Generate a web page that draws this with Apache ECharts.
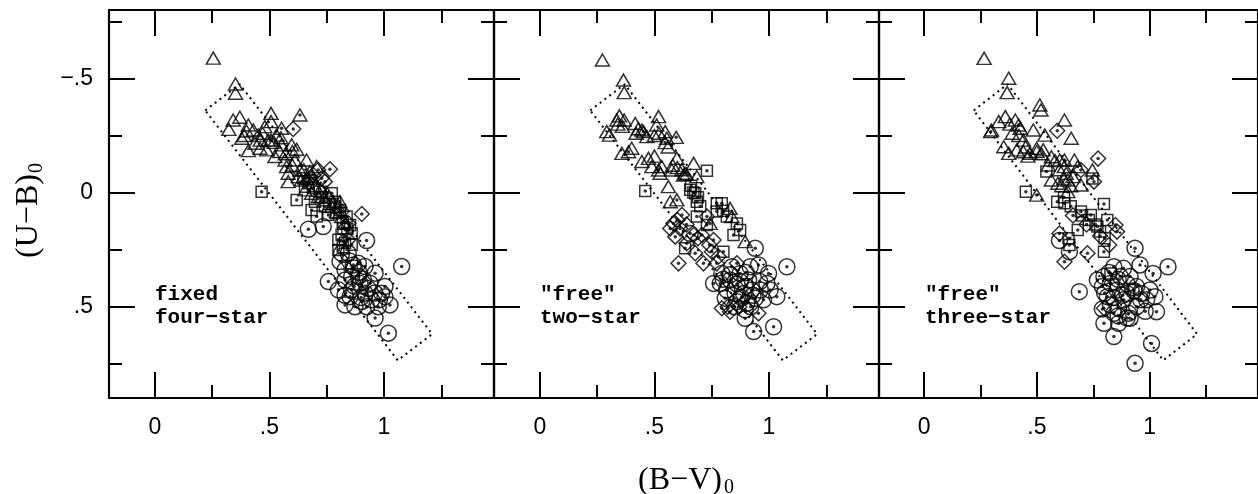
<!DOCTYPE html>
<html><head><meta charset="utf-8">
<script src="https://cdn.jsdelivr.net/npm/echarts@6/dist/echarts.min.js"></script>
<style>html,body{margin:0;padding:0;background:#fff}#c{width:1258px;height:494px}</style>
</head><body><div id="c"></div>
<script>
// ---------- data ----------
const xMin = -0.2, xMax = 1.48, yMin = -0.8, yMax = 0.9;
const xMajor = [0, 0.5, 1], xMajorLabels = ['0', '.5', '1'];
const xMinor = [0.25, 0.75, 1.25];
const yMajor = [-0.5, 0, 0.5], yMajorLabels = ['\u2212.5', '0', '.5'];
const yMinor = [-0.75, -0.25, 0.25, 0.75];
const panelNames = ['fixed\nfour\u2212star', '"free"\ntwo\u2212star', '"free"\nthree\u2212star'];
const boxCorners = [[0.22,-0.36],[0.37,-0.475],[1.21,0.62],[1.06,0.735],[0.22,-0.36]];

// panel 1 (fixed four-star)
const p1TriOpen = [[0.255,-0.589],[0.352,-0.476],[0.352,-0.435],[0.371,-0.33],[0.342,-0.318],[0.323,-0.277],[0.379,-0.238],[0.408,-0.184],[0.408,-0.296],[0.43,-0.274],[0.451,-0.252],[0.48,-0.289],[0.507,-0.347],[0.507,-0.311],[0.531,-0.252],[0.495,-0.23],[0.488,-0.187],[0.524,-0.158],[0.553,-0.209],[0.597,-0.209],[0.619,-0.19],[0.568,-0.143],[0.611,-0.143],[0.662,-0.143],[0.582,-0.085],[0.633,-0.099],[0.582,-0.048],[0.626,-0.07],[0.677,-0.092],[0.706,-0.114],[0.437,-0.216],[0.459,-0.194],[0.64,-0.055],[0.655,-0.012],[0.684,0.003],[0.713,0.018],[0.742,0.032],[0.772,0.061],[0.793,0.083],[0.815,0.105],[0.83,0.134],
  [0.60,-0.12],[0.65,-0.10],[0.69,-0.06],[0.70,-0.03],[0.725,-0.02],[0.75,0.0],[0.76,0.02],[0.78,0.04],[0.80,0.06],[0.545,-0.18],[0.57,-0.17],[0.47,-0.26],[0.46,-0.23],[0.40,-0.27],[0.39,-0.25],[0.52,-0.22],[0.55,-0.24],[0.60,-0.18]];
const p1TriDot = [[0.633,-0.34],[0.553,-0.282],[0.808,0.04],[0.507,-0.23],[0.662,-0.063],[0.575,-0.114]];
const p1Square = [[0.466,-0.004],[0.619,0.032],[0.684,0.076],[0.801,0.207],[0.801,0.251],[0.699,0.04],[0.757,0.098],[0.859,0.178],[0.655,-0.026],[0.772,0.003],[0.823,0.156],[0.859,0.229],[0.706,0.105],[0.742,0.061],[0.648,-0.063],[0.67,-0.041],[0.72,-0.004],[0.786,0.04],[0.808,0.076],[0.837,0.105],[0.852,0.142],[0.815,0.185],
  [0.69,-0.02],[0.73,0.02],[0.76,0.05],[0.79,0.09],[0.82,0.13],[0.84,0.16],[0.83,0.22],[0.82,0.24]];
const p1Diamond = [[0.604,-0.279],[0.764,-0.102],[0.903,0.094],[0.742,-0.048],[0.713,-0.099],[0.844,0.134],[0.728,-0.063],[0.691,-0.077],[0.815,0.083],[0.844,0.207]];
const p1Circle = [[0.67,0.161],[0.735,0.149],[0.924,0.21],[1.077,0.324],[0.757,0.39],[0.808,0.302],[0.83,0.492],[0.917,0.324],[0.961,0.353],[1.004,0.412],[1.026,0.492],[0.961,0.55],[1.019,0.616],[0.888,0.368],[0.859,0.426],[0.917,0.441],[0.946,0.47],[0.99,0.441],[0.873,0.5],[0.924,0.5],[0.83,0.383],[0.866,0.317],[0.83,0.339],[1.004,0.456],[0.801,0.426],[0.895,0.397],[0.939,0.397],[0.852,0.456],[0.975,0.5],[0.888,0.31],[0.844,0.266],[0.815,0.266],[0.859,0.368],[0.903,0.477],
  [0.85,0.30],[0.87,0.33],[0.89,0.35],[0.91,0.38],[0.93,0.42],[0.87,0.41],[0.90,0.46],[0.96,0.44],[0.98,0.47],[0.83,0.45]];

// panel 2 ("free" two-star)
const p2TriOpen = [[0.273,-0.581],[0.365,-0.493],[0.368,-0.438],[0.347,-0.336],[0.336,-0.318],[0.368,-0.318],[0.304,-0.252],[0.292,-0.267],[0.358,-0.172],[0.401,-0.194],[0.416,-0.303],[0.445,-0.274],[0.467,-0.245],[0.518,-0.333],[0.51,-0.296],[0.547,-0.267],[0.554,-0.238],[0.445,-0.136],[0.474,-0.15],[0.489,-0.114],[0.525,-0.085],[0.532,-0.114],[0.598,-0.15],[0.576,-0.099],[0.627,-0.077],[0.671,-0.128],[0.685,-0.07],[0.561,-0.026],[0.569,0.04],[0.83,0.069],[0.838,0.105],[0.896,0.215],
  [0.42,-0.26],[0.43,-0.28],[0.50,-0.25],[0.52,-0.26],[0.56,-0.20],[0.58,-0.12],[0.60,-0.11],[0.62,-0.10],[0.64,-0.08],[0.50,-0.16],[0.34,-0.30],[0.36,-0.29]];
const p2TriDot = [[0.547,-0.219],[0.595,-0.242],[0.452,-0.267],[0.634,-0.085],[0.598,0.032],[0.743,0.135],[0.387,-0.179],[0.518,-0.099]];
const p2Square = [[0.46,-0.007],[0.729,-0.096],[0.656,-0.012],[0.678,0.003],[0.685,0.04],[0.772,0.047],[0.794,0.047],[0.772,0.083],[0.816,0.105],[0.86,0.135],[0.874,0.164],[0.685,0.105],[0.634,0.244],[0.801,0.259],[0.729,0.142],[0.845,0.186],
  [0.66,-0.03],[0.67,0.0],[0.69,0.02],[0.70,0.06],[0.80,0.08]];
const p2Diamond = [[0.62,0.098],[0.583,0.135],[0.569,0.157],[0.591,0.193],[0.612,0.157],[0.671,0.186],[0.707,0.186],[0.758,0.208],[0.678,0.266],[0.714,0.31],[0.751,0.259],[0.605,0.31],[0.794,0.507],[0.83,0.522],[0.954,0.529],[0.86,0.31],[0.772,0.31],[0.729,0.105],[0.641,0.222],
  [0.60,0.12],[0.64,0.14],[0.69,0.20],[0.74,0.23],[0.78,0.28],[0.82,0.50],[0.87,0.50]];
const p2Circle = [[0.656,0.179],[0.94,0.244],[1.078,0.325],[1.034,0.456],[1.02,0.588],[0.933,0.609],[0.896,0.551],[0.758,0.398],[0.794,0.354],[0.83,0.383],[0.874,0.354],[0.918,0.325],[0.954,0.317],[0.998,0.354],[0.991,0.398],[0.962,0.427],[0.925,0.427],[0.889,0.442],[0.852,0.442],[0.816,0.427],[0.787,0.398],[0.86,0.478],[0.903,0.485],[0.94,0.463],[1.005,0.427],[0.874,0.39],[0.911,0.383],[0.838,0.325],[0.809,0.463],[0.896,0.514],[0.976,0.47],
  [0.83,0.36],[0.86,0.40],[0.90,0.41],[0.93,0.45],[0.88,0.46],[0.85,0.50],[0.92,0.50],[0.96,0.39],[0.80,0.38],[0.90,0.35]];

// panel 3 ("free" three-star)
const p3TriOpen = [[0.266,-0.588],[0.375,-0.501],[0.368,-0.438],[0.513,-0.384],[0.518,-0.362],[0.36,-0.333],[0.331,-0.311],[0.299,-0.274],[0.404,-0.318],[0.426,-0.282],[0.484,-0.274],[0.535,-0.252],[0.622,-0.318],[0.652,-0.238],[0.353,-0.201],[0.375,-0.172],[0.411,-0.187],[0.44,-0.23],[0.44,-0.179],[0.47,-0.172],[0.499,-0.194],[0.528,-0.187],[0.564,-0.157],[0.601,-0.143],[0.666,-0.143],[0.622,-0.114],[0.55,-0.121],[0.746,-0.099],[0.564,-0.055],[0.593,-0.041],[0.637,-0.055],[0.695,-0.033],[0.63,-0.084],
  [0.38,-0.30],[0.39,-0.26],[0.42,-0.25],[0.45,-0.20],[0.46,-0.16],[0.50,-0.18],[0.52,-0.17],[0.58,-0.14],[0.60,-0.10],[0.62,-0.06],[0.65,-0.03],[0.61,-0.03],[0.66,-0.07]];
const p3TriDot = [[0.295,-0.267],[0.419,-0.296],[0.499,0.011],[0.622,-0.143],[0.681,-0.114],[0.637,-0.004]];
const p3Square = [[0.451,-0.004],[0.59,0.04],[0.797,0.05],[0.681,0.164],[0.768,0.149],[0.644,0.23],[0.797,0.259],[0.739,0.098],[0.695,0.083],[0.812,0.12],[0.542,-0.092],[0.746,-0.062],[0.622,0.047],[0.928,0.427],[0.826,0.354],
  [0.62,0.02],[0.65,0.06],[0.70,0.10],[0.73,0.12],[0.76,0.14],[0.78,0.17],[0.80,0.20],[0.64,0.20]];
const p3Diamond = [[0.59,-0.271],[0.771,-0.149],[0.6,0.179],[0.622,0.303],[0.753,-0.048],[0.848,0.142],[0.724,0.266],[0.695,-0.099],[0.797,0.507],[0.855,0.171],
  [0.66,0.10],[0.72,0.14],[0.78,0.19],[0.82,0.23]];
const p3Circle = [[0.935,0.244],[1.081,0.325],[0.957,0.317],[1.015,0.354],[0.688,0.434],[0.797,0.368],[0.841,0.325],[0.884,0.332],[0.913,0.368],[0.87,0.368],[0.826,0.398],[0.79,0.412],[0.855,0.427],[0.899,0.442],[0.942,0.412],[1.001,0.427],[1.023,0.456],[1.03,0.522],[0.986,0.47],[0.942,0.5],[0.906,0.529],[0.862,0.507],[0.826,0.493],[0.797,0.573],[0.862,0.573],[0.913,0.551],[0.841,0.631],[1.008,0.661],[0.935,0.748],[0.644,0.259],[0.812,0.456],[0.884,0.47],[0.964,0.442],[0.768,0.383],[0.841,0.529],
  [0.60,0.21],[0.82,0.35],[0.86,0.38],[0.90,0.40],[0.93,0.43],[0.96,0.47],[0.88,0.45],[0.84,0.46],[0.80,0.44],[0.98,0.52],[0.86,0.54],[0.90,0.55],[0.79,0.51]];

const panels = [
  {triOpen: p1TriOpen, triDot: p1TriDot, square: p1Square, diamond: p1Diamond, circle: p1Circle},
  {triOpen: p2TriOpen, triDot: p2TriDot, square: p2Square, diamond: p2Diamond, circle: p2Circle},
  {triOpen: p3TriOpen, triDot: p3TriDot, square: p3Square, diamond: p3Diamond, circle: p3Circle}
];

// ---------- layout / style ----------
const gridLefts = [109, 494, 879];
const gridW = 385, gridTop = 10, gridH = 388;
const BLACK = '#000';
const TICK_FONT = '"Liberation Sans", Arial, sans-serif';

function labelFor(vals, labels) {
  return function (v) {
    for (let i = 0; i < vals.length; i++) if (Math.abs(v - vals[i]) < 1e-9) return labels[i];
    return '';
  };
}

const grids = [], xAxes = [], yAxes = [], series = [];
panels.forEach((p, i) => {
  grids.push({left: gridLefts[i], top: gridTop, width: gridW, height: gridH, containLabel: false});
  const xBase = xAxes.length, yBase = yAxes.length;
  ['bottom', 'top'].forEach(pos => {
    [true, false].forEach(major => {
      xAxes.push({
        type: 'value', gridIndex: i, position: pos, min: xMin, max: xMax,
        axisLine: {show: major, onZero: false, lineStyle: {color: BLACK, width: 2.2}},
        axisTick: {show: true, inside: true, length: major ? 26 : 13, customValues: major ? xMajor : xMinor,
                   lineStyle: {color: BLACK, width: 2}},
        axisLabel: {show: major && pos === 'bottom', customValues: xMajor, margin: 18,
                    formatter: labelFor(xMajor, xMajorLabels), color: BLACK, fontSize: 23, fontFamily: TICK_FONT},
        splitLine: {show: false}
      });
    });
  });
  ['left', 'right'].forEach(pos => {
    [true, false].forEach(major => {
      yAxes.push({
        type: 'value', gridIndex: i, position: pos, min: yMin, max: yMax, inverse: true,
        axisLine: {show: major, onZero: false, lineStyle: {color: BLACK, width: 2.2}},
        axisTick: {show: true, inside: true, length: major ? 26 : 13, customValues: major ? yMajor : yMinor,
                   lineStyle: {color: BLACK, width: 2}},
        axisLabel: {show: major && pos === 'left' && i === 0, customValues: yMajor, margin: 16,
                    formatter: labelFor(yMajor, yMajorLabels), color: BLACK, fontSize: 23, fontFamily: TICK_FONT},
        splitLine: {show: false}
      });
    });
  });
  const ax = {xAxisIndex: xBase, yAxisIndex: yBase};
  series.push(Object.assign({
    type: 'line', data: boxCorners, symbol: 'none', silent: true, z: 1,
    lineStyle: {color: BLACK, width: 2, type: [2, 4]}
  }, ax));
  const open = {color: 'rgba(0,0,0,0)', borderColor: BLACK, borderWidth: 1.5};
  const mk = (data, symbol, size) => Object.assign({
    type: 'scatter', data: data, symbol: symbol, symbolSize: size, itemStyle: open, silent: true, z: 2
  }, ax);
  series.push(mk(p.triOpen, 'triangle', [14, 12]));
  series.push(mk(p.triDot, 'triangle', [14, 12]));
  series.push(mk(p.square, 'rect', [11, 11]));
  series.push(mk(p.diamond, 'diamond', [15, 15]));
  series.push(mk(p.circle, 'circle', [16, 16]));
  series.push(Object.assign({
    type: 'scatter', data: [].concat(p.triDot, p.square, p.diamond, p.circle),
    symbol: 'circle', symbolSize: 3.5, itemStyle: {color: BLACK}, silent: true, z: 3
  }, ax));
});

const LABEL_FONT = 'bold 21px "Liberation Mono", "DejaVu Sans Mono", monospace';
const graphics = panelNames.map((t, i) => ({
  type: 'text', left: gridLefts[i] + 46, top: 283,
  style: {text: t, font: LABEL_FONT, fill: BLACK, lineHeight: 23}
}));
const SERIF = '32px "Liberation Serif", "DejaVu Serif", serif';
graphics.push({type: 'text', x: 680, y: 481, style: {text: '(B\u2212V)', font: SERIF, fill: BLACK, textAlign: 'center', textVerticalAlign: 'middle'}});
graphics.push({type: 'text', x: 729, y: 488, style: {text: '0', font: '20px "Liberation Serif", serif', fill: BLACK, textAlign: 'center', textVerticalAlign: 'middle'}});
graphics.push({type: 'text', x: 29, y: 216, rotation: Math.PI / 2, style: {text: '(U\u2212B)', font: SERIF, fill: BLACK, textAlign: 'center', textVerticalAlign: 'middle'}});
graphics.push({type: 'text', x: 37, y: 168, rotation: Math.PI / 2, style: {text: '0', font: '20px "Liberation Serif", serif', fill: BLACK, textAlign: 'center', textVerticalAlign: 'middle'}});

const chart = echarts.init(document.getElementById('c'), null, {renderer: 'canvas'});
chart.setOption({
  animation: false,
  backgroundColor: '#fff',
  grid: grids, xAxis: xAxes, yAxis: yAxes, series: series,
  graphic: graphics
});
</script>
</body></html>
